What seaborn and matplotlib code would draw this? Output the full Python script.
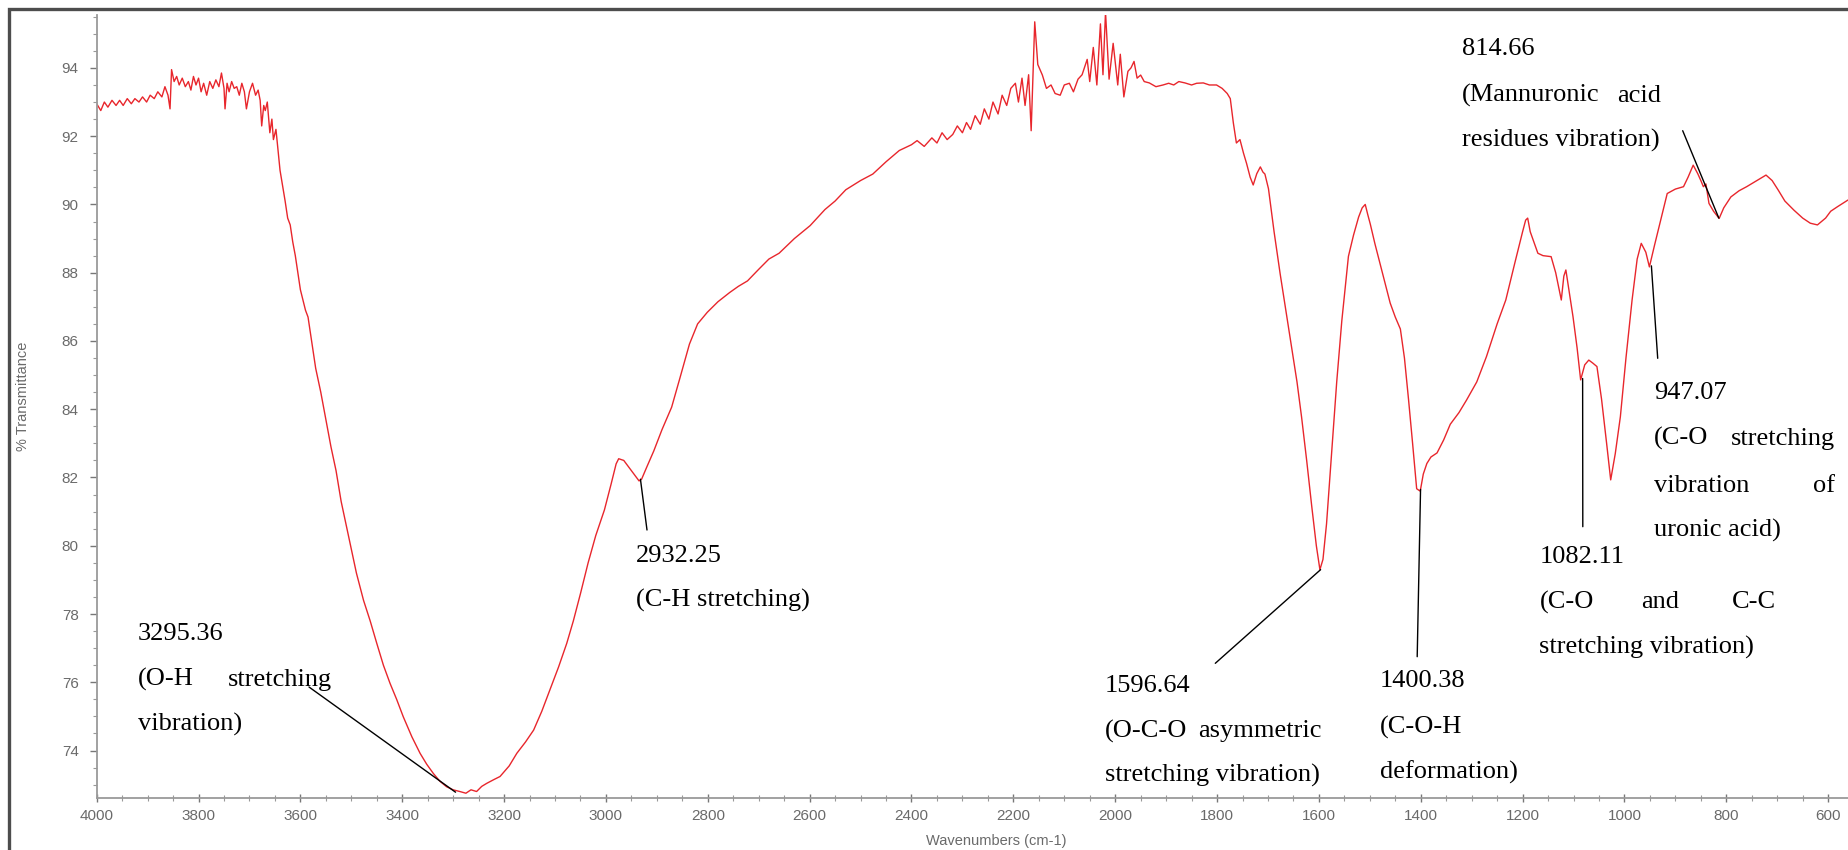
import matplotlib
matplotlib.use("Agg")
import matplotlib.pyplot as plt
from matplotlib import font_manager
from matplotlib.patches import Rectangle
from matplotlib.ticker import MultipleLocator
import seaborn as sns
import pandas as pd

# ---------------- data ----------------
wavenumber = [
    4000, 3992, 3985, 3978, 3970, 3962, 3955, 3948, 3940, 3932, 3925, 3917, 3910, 3902, 3895,
    3887, 3880, 3872, 3866, 3860, 3856, 3853, 3848, 3843, 3838, 3832, 3826, 3820, 3815, 3810,
    3805, 3800, 3795, 3790, 3784, 3778, 3772, 3766, 3760, 3755, 3750, 3748, 3744, 3740, 3735,
    3730, 3725, 3720, 3715, 3710, 3706, 3700, 3694, 3688, 3683, 3679, 3676, 3672, 3669, 3665,
    3660, 3656, 3653, 3648, 3640, 3630, 3625, 3620, 3615, 3610, 3600, 3590, 3585, 3578, 3570,
    3560, 3550, 3540, 3530, 3520, 3510, 3500, 3490, 3476, 3463, 3450, 3437, 3424, 3411, 3398,
    3381, 3365, 3352, 3339, 3326, 3313, 3300, 3287, 3275, 3265, 3254, 3244, 3234, 3220, 3208,
    3190, 3175, 3158, 3142, 3126, 3110, 3093, 3077, 3064, 3050, 3035, 3020, 3003, 2990, 2980,
    2975, 2965, 2955, 2945, 2935, 2930, 2920, 2906, 2890, 2871, 2855, 2836, 2820, 2801, 2780,
    2757, 2740, 2722, 2700, 2680, 2660, 2630, 2599, 2570, 2550, 2529, 2500, 2476, 2450, 2424,
    2400, 2389, 2375, 2360, 2350, 2340, 2330, 2319, 2310, 2300, 2292, 2284, 2275, 2265, 2257,
    2248, 2240, 2230, 2222, 2213, 2205, 2196, 2190, 2183,
    2177, 2170, 2165, 2158, 2152, 2143, 2135, 2126, 2118, 2108, 2100, 2090, 2082, 2073, 2065,
    2055, 2050, 2043, 2036, 2029, 2024, 2019, 2012, 2004, 1995, 1990, 1983, 1975, 1969, 1963,
    1957, 1950, 1943, 1933, 1920, 1906, 1895, 1885, 1875, 1863, 1850, 1840, 1827, 1815, 1801,
    1790, 1780, 1774, 1768, 1762, 1755, 1748, 1742, 1735, 1729, 1722, 1715, 1710, 1706, 1699,
    1688, 1676, 1665, 1654, 1643, 1634, 1624, 1614, 1605, 1598, 1592, 1585, 1575, 1565, 1555,
    1548, 1542, 1532, 1522, 1515, 1509, 1504, 1499, 1490, 1480, 1470, 1460, 1450, 1440, 1432,
    1424, 1416, 1408, 1401, 1395, 1388, 1380, 1368, 1355, 1342, 1325, 1310, 1290, 1271, 1250,
    1233, 1215, 1200, 1194, 1190, 1185, 1170, 1160, 1144, 1135, 1124, 1119, 1115, 1108, 1101,
    1093, 1086, 1078, 1070, 1062, 1054, 1045, 1035, 1027, 1018, 1008, 997, 985, 975, 967,
    958, 951, 941, 932, 923, 916, 900, 884, 875, 865, 856, 850, 845, 840, 834,
    825, 814, 805, 791, 775, 760, 740, 722, 710, 698, 685, 667, 650, 635, 621,
    605, 595, 582, 561,
]
transmittance = [
    92.95, 92.75, 93.00, 92.85, 93.05, 92.90, 93.05, 92.90, 93.10, 92.95, 93.10, 93.00, 93.15, 93.00, 93.20,
    93.10, 93.30, 93.15, 93.45, 93.20, 92.80, 93.95, 93.60, 93.75, 93.50, 93.70, 93.45, 93.60, 93.35, 93.75,
    93.50, 93.70, 93.30, 93.55, 93.20, 93.60, 93.40, 93.65, 93.45, 93.85, 93.40, 92.80, 93.55, 93.30, 93.60,
    93.40, 93.45, 93.20, 93.55, 93.30, 92.80, 93.30, 93.55, 93.20, 93.35, 93.05, 92.30, 92.90, 92.75, 93.00,
    92.10, 92.50, 91.90, 92.20, 91.00, 90.10, 89.60, 89.40, 88.90, 88.50, 87.50, 86.90, 86.70, 86.00, 85.20,
    84.50, 83.70, 82.90, 82.20, 81.30, 80.60, 79.90, 79.20, 78.40, 77.80, 77.14, 76.50, 75.97, 75.50, 74.99,
    74.40, 73.92, 73.60, 73.33, 73.10, 72.94, 72.85, 72.80, 72.75, 72.85, 72.80, 72.95, 73.04, 73.15, 73.24,
    73.55, 73.92, 74.25, 74.60, 75.15, 75.78, 76.45, 77.14, 77.80, 78.60, 79.50, 80.30, 81.05, 81.80, 82.40,
    82.55, 82.50, 82.30, 82.10, 81.90, 81.95, 82.30, 82.78, 83.40, 84.06, 84.90, 85.91, 86.50, 86.84, 87.15,
    87.42, 87.60, 87.76, 88.10, 88.40, 88.57, 89.00, 89.38, 89.85, 90.10, 90.43, 90.70, 90.89, 91.25, 91.58,
    91.75, 91.87, 91.70, 91.95, 91.80, 92.10, 91.90, 92.05, 92.30, 92.10, 92.40, 92.20, 92.60, 92.35, 92.80,
    92.50, 93.00, 92.65, 93.20, 92.90, 93.40, 93.55, 93.00, 93.70,
    92.90, 93.80, 92.16, 95.35, 94.10, 93.79, 93.40, 93.50, 93.25, 93.20, 93.50, 93.55, 93.30, 93.67, 93.80,
    94.25, 93.60, 94.60, 93.50, 95.29, 93.80, 95.64, 93.67, 94.72, 93.50, 94.40, 93.15, 93.90, 94.00, 94.19,
    93.70, 93.79, 93.60, 93.56, 93.45, 93.50, 93.55, 93.50, 93.60, 93.56, 93.50, 93.55, 93.56, 93.50, 93.50,
    93.40, 93.25, 93.10, 92.39, 91.80, 91.90, 91.50, 91.20, 90.80, 90.57, 90.90, 91.10, 90.95, 90.89, 90.46,
    89.20, 87.96, 86.90, 85.85, 84.80, 83.77, 82.50, 81.15, 80.00, 79.30, 79.60, 80.64, 82.72, 84.80, 86.59,
    87.60, 88.48, 89.10, 89.63, 89.90, 90.00, 89.70, 89.42, 88.85, 88.27, 87.70, 87.11, 86.70, 86.35, 85.50,
    84.29, 83.00, 81.67, 81.60, 82.10, 82.41, 82.60, 82.72, 83.10, 83.56, 83.90, 84.27, 84.80, 85.54, 86.50,
    87.20, 88.30, 89.20, 89.54, 89.60, 89.20, 88.57, 88.50, 88.47, 88.00, 87.20, 87.90, 88.08, 87.40, 86.71,
    85.80, 84.86, 85.30, 85.44, 85.35, 85.25, 84.30, 83.00, 81.93, 82.70, 83.78, 85.50, 87.20, 88.40, 88.86,
    88.60, 88.17, 88.80, 89.35, 89.90, 90.32, 90.45, 90.52, 90.80, 91.15, 90.90, 90.70, 90.52, 90.60, 90.03,
    89.80, 89.59, 89.90, 90.22, 90.40, 90.52, 90.70, 90.86, 90.70, 90.42, 90.10, 89.83, 89.60, 89.45, 89.40,
    89.60, 89.80, 89.93, 90.13,
]

peak_wn = [3295.36, 2932.25, 1596.64, 1400.38, 1082.11, 947.07, 814.66]
peak_T = [72.78, 81.95, 79.30, 81.65, 84.90, 88.20, 89.60]
peak_labels = ["3295.36", "2932.25", "1596.64", "1400.38", "1082.11", "947.07", "814.66"]

x_ticks = [4000, 3800, 3600, 3400, 3200, 3000, 2800, 2600, 2400, 2200, 2000, 1800, 1600, 1400, 1200, 1000, 800, 600]
y_ticks = [74, 76, 78, 80, 82, 84, 86, 88, 90, 92, 94]

x_label = "Wavenumbers (cm-1)"
y_label = "% Transmittance"

# ---------------- style ----------------
W, H = 1848, 850
sns.set_theme(style="white")
avail = {f.name for f in font_manager.fontManager.ttflist}
narrow = "Liberation Sans Narrow" if "Liberation Sans Narrow" in avail else "Liberation Sans"
serif = "Liberation Serif"
plt.rcParams["font.family"] = [narrow, "DejaVu Sans"]

fig = plt.figure(figsize=(W / 100, H / 100), dpi=100)
fig.patch.set_facecolor("white")

def fx(px):
    return px / W

def fy(py):
    return 1 - py / H

ax = fig.add_axes([fx(96.7), fy(798), 1 - fx(96.7), (798 - 15) / H])
ax.set_facecolor("white")

df = pd.DataFrame({"wn": wavenumber, "T": transmittance})
sns.lineplot(data=df, x="wn", y="T", ax=ax, color="#e8262c", linewidth=1.0,
             estimator=None, sort=False)

ax.set_xlim(4000, 561)
ax.set_ylim(72.61, 95.55)
ax.set_xticks(x_ticks)
ax.set_xticklabels([str(t) for t in x_ticks])
ax.set_yticks(y_ticks)
ax.set_yticklabels([str(t) for t in y_ticks])
ax.xaxis.set_minor_locator(MultipleLocator(50))
ax.yaxis.set_minor_locator(MultipleLocator(0.5))

grey = "#9a9a9a"
for side in ["top", "right"]:
    ax.spines[side].set_visible(False)
for side in ["left", "bottom"]:
    ax.spines[side].set_color(grey)
    ax.spines[side].set_linewidth(1.3)

ax.tick_params(axis="x", which="major", direction="inout", length=6, width=1.0,
               color="#777777", labelsize=11, labelcolor="#6a6a6a", pad=5, bottom=True)
ax.tick_params(axis="x", which="minor", direction="inout", length=4, width=0.8,
               color="#999999", bottom=True)
ax.tick_params(axis="y", which="major", direction="out", length=5, width=1.0,
               color="#777777", labelsize=11, labelcolor="#6a6a6a", pad=8, left=True)
ax.tick_params(axis="y", which="minor", direction="out", length=3, width=0.8,
               color="#999999", left=True)

ax.set_xlabel("")
ax.set_ylabel("")
fig.text(fx(996), fy(845), x_label, ha="center", va="baseline", fontsize=10.5, color="#6a6a6a")
fig.text(fx(23), fy(396), y_label, ha="center", va="center", rotation=90, fontsize=10.5, color="#6a6a6a")

# outer frame of the screenshot
fig.patches.append(Rectangle((fx(9), -0.05), 1.2, fy(9) + 0.05, transform=fig.transFigure,
                             fill=False, edgecolor="#4d4d4d", linewidth=2.4, clip_on=False))

# ---------------- annotations ----------------
FS = 19

def word(px, py, s, ha="left"):
    fig.text(fx(px), fy(py), s, ha=ha, va="baseline", fontsize=FS, family=serif, color="black")

def leader(i, px, py):
    ax.annotate("", xy=(peak_wn[i], peak_T[i]), xycoords="data",
                xytext=(px, H - py), textcoords="figure pixels",
                arrowprops=dict(arrowstyle="-", color="black", lw=1.0, shrinkA=0, shrinkB=0))

# 3295.36
word(137.7, 640, peak_labels[0])
word(137.7, 686, "(O-H")
word(228.3, 686, "stretching")
word(137.7, 731, "vibration)")
leader(0, 309, 687)

# 2932.25
word(635.9, 561.5, peak_labels[1])
word(635.9, 607, "(C-H stretching)")
leader(1, 647, 530)

# 1596.64
word(1104.7, 691.7, peak_labels[2])
word(1104.7, 737.3, "(O-C-O")
word(1321.7, 737.3, "asymmetric", ha="right")
word(1104.7, 781.7, "stretching vibration)")
leader(2, 1215.3, 663.3)

# 1400.38
word(1379.9, 687.3, peak_labels[3])
word(1379.9, 733.3, "(C-O-H")
word(1379.9, 778.3, "deformation)")
leader(3, 1417.2, 656.7)

# 1082.11
word(1539.4, 563.3, peak_labels[4])
word(1539.4, 608.3, "(C-O")
word(1660.6, 608.3, "and", ha="center")
word(1776, 608.3, "C-C", ha="right")
word(1539.4, 653.3, "stretching vibration)")
leader(4, 1582.8, 526.7)

# 947.07
word(1653.7, 399, peak_labels[5])
word(1653.7, 445, "(C-O")
word(1835, 445, "stretching", ha="right")
word(1653.7, 491.7, "vibration")
word(1835, 491.7, "of", ha="right")
word(1653.7, 536.7, "uronic acid)")
leader(5, 1657.7, 358.3)

# 814.66
word(1461.7, 55, peak_labels[6])
word(1461.7, 101.7, "(Mannuronic")
word(1661, 101.7, "acid", ha="right")
word(1461.7, 146.7, "residues vibration)")
leader(6, 1682.7, 130.7)

fig.savefig("out.png", dpi=100, facecolor="white")
